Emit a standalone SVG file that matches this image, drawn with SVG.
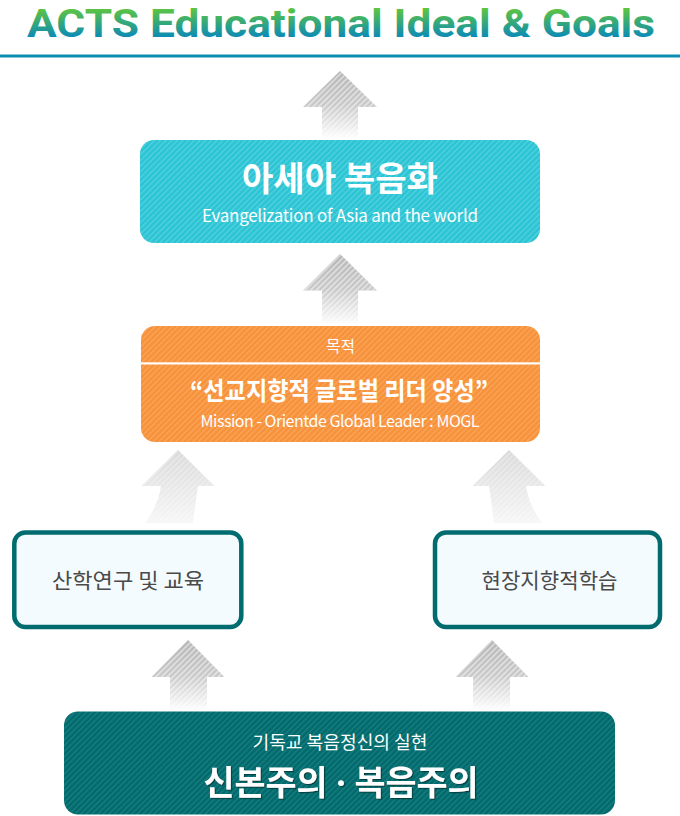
<svg xmlns="http://www.w3.org/2000/svg" width="680" height="816" viewBox="0 0 680 816">
  <defs>
    <style>
      .ko { font-family: "Noto Sans CJK KR", "Noto Sans", sans-serif; }
      .ttl { font-family: Roboto, "Liberation Sans", sans-serif; }
      .dot { font-family: "Noto Sans", "Liberation Sans", sans-serif; }
      .w { fill: #ffffff; }
      .dark { fill: #4a4a4a; }
    </style>
    <linearGradient id="titleGrad" x1="0" y1="7" x2="0" y2="37" gradientUnits="userSpaceOnUse">
      <stop offset="0" stop-color="#62c83a"/>
      <stop offset="1" stop-color="#0b8bb6"/>
    </linearGradient>
    <linearGradient id="arrowDark" x1="0" y1="0" x2="0" y2="1">
      <stop offset="0" stop-color="#b4b4b4"/>
      <stop offset="0.5" stop-color="#c8c8c8"/>
      <stop offset="1" stop-color="#ffffff"/>
    </linearGradient>
    <linearGradient id="arrowLight" x1="0" y1="0" x2="0" y2="1">
      <stop offset="0" stop-color="#d9d9d9"/>
      <stop offset="1" stop-color="#f6f6f6"/>
    </linearGradient>
    <pattern id="hatchWhite" width="4" height="4" patternUnits="userSpaceOnUse" patternTransform="rotate(45)">
      <rect x="0" y="0" width="1.6" height="4" fill="#ffffff" opacity="0.55"/>
    </pattern>
    <pattern id="hatchCyan" width="4" height="4" patternUnits="userSpaceOnUse" patternTransform="rotate(45)">
      <rect width="4" height="4" fill="#2bc4d4"/>
      <rect x="0" y="0" width="1.3" height="4" fill="#54d1de"/>
    </pattern>
    <pattern id="hatchOrange" width="4" height="4" patternUnits="userSpaceOnUse" patternTransform="rotate(45)">
      <rect width="4" height="4" fill="#f7913a"/>
      <rect x="0" y="0" width="1.3" height="4" fill="#faa65c"/>
    </pattern>
    <pattern id="hatchTeal" width="4" height="4" patternUnits="userSpaceOnUse" patternTransform="rotate(45)">
      <rect width="4" height="4" fill="#006a6c"/>
      <rect x="0" y="0" width="1.3" height="4" fill="#1c7e80"/>
    </pattern>
    <filter id="shadow" x="-5%" y="-20%" width="110%" height="140%">
      <feDropShadow dx="1.2" dy="1.2" stdDeviation="0.6" flood-color="#003a3b" flood-opacity="0.9"/>
    </filter>
  </defs>

  <rect width="680" height="816" fill="#ffffff"/>

  <!-- Title -->
  <g id="title">
    <text x="341" y="36.5" text-anchor="middle" class="ttl" font-size="39" font-weight="700" fill="url(#titleGrad)" textLength="628" lengthAdjust="spacingAndGlyphs">ACTS Educational Ideal &amp; Goals</text>
    <rect x="0" y="54.5" width="680" height="3" fill="#0e8db3"/>
  </g>

  <!-- Connectors -->
  <g id="connectors">
    <g id="arrow-top">
      <path d="M340,71 L377,107 L358,107 L358,139 L322,139 L322,107 L303,107 Z" fill="url(#arrowDark)"/>
      <path d="M340,71 L377,107 L358,107 L358,139 L322,139 L322,107 L303,107 Z" fill="url(#hatchWhite)"/>
    </g>
    <g id="arrow-mid">
      <path d="M340,254 L377,290.5 L358,290.5 L358,325 L322,325 L322,290.5 L303,290.5 Z" fill="url(#arrowDark)"/>
      <path d="M340,254 L377,290.5 L358,290.5 L358,325 L322,325 L322,290.5 L303,290.5 Z" fill="url(#hatchWhite)"/>
    </g>
    <g id="arrow-curve-left">
      <path d="M178,450 L214.5,486 L198,486 Q195,505 193,523 L145,523 Q158,506 161,486 L141.5,486 Z" fill="url(#arrowLight)"/>
      <path d="M178,450 L214.5,486 L198,486 Q195,505 193,523 L145,523 Q158,506 161,486 L141.5,486 Z" fill="url(#hatchWhite)" opacity="0.6"/>
    </g>
    <g id="arrow-curve-right">
      <path d="M509,450 L545.5,486 L526,486 Q529,506 542,523 L494,523 Q492,505 489,486 L472.5,486 Z" fill="url(#arrowLight)"/>
      <path d="M509,450 L545.5,486 L526,486 Q529,506 542,523 L494,523 Q492,505 489,486 L472.5,486 Z" fill="url(#hatchWhite)" opacity="0.6"/>
    </g>
    <g id="arrow-low-left">
      <path d="M188,640 L224.5,677 L207,677 L207,711 L170,711 L170,677 L151.5,677 Z" fill="url(#arrowDark)"/>
      <path d="M188,640 L224.5,677 L207,677 L207,711 L170,711 L170,677 L151.5,677 Z" fill="url(#hatchWhite)"/>
    </g>
    <g id="arrow-low-right">
      <path d="M492,640 L528.5,677 L510,677 L510,711 L473,711 L473,677 L455.5,677 Z" fill="url(#arrowDark)"/>
      <path d="M492,640 L528.5,677 L510,677 L510,711 L473,711 L473,677 L455.5,677 Z" fill="url(#hatchWhite)"/>
    </g>
  </g>

  <!-- Node: Evangelization of Asia -->
  <g id="node-asia">
    <rect x="140" y="140" width="400" height="103" rx="14" fill="url(#hatchCyan)"/>
    <text x="340" y="191" text-anchor="middle" class="ko w" font-size="34" font-weight="700" textLength="196" lengthAdjust="spacingAndGlyphs">아세아 복음화</text>
    <text x="340" y="222" text-anchor="middle" class="ko w" font-size="17" textLength="276">Evangelization of Asia and the world</text>
  </g>

  <!-- Node: Purpose MOGL -->
  <g id="node-mogl">
    <rect x="141" y="326" width="399" height="116" rx="14" fill="url(#hatchOrange)"/>
    <rect x="141" y="362.3" width="399" height="2.2" fill="#ffffff"/>
    <text x="340.5" y="352" text-anchor="middle" class="ko w" font-size="16" textLength="29" lengthAdjust="spacingAndGlyphs">목적</text>
    <text x="339" y="400" text-anchor="middle" class="ko w" font-size="25" font-weight="700" textLength="298" lengthAdjust="spacingAndGlyphs">“선교지향적 글로벌 리더 양성”</text>
    <text x="340" y="427" text-anchor="middle" class="ko w" font-size="16" textLength="279">Mission - Orientde Global Leader : MOGL</text>
  </g>

  <!-- Node: Theology research and education -->
  <g id="node-research">
    <rect x="14.3" y="532.5" width="227" height="94.5" rx="11" fill="#f4fbfe" stroke="#006c6f" stroke-width="4.5"/>
    <text x="128" y="588" text-anchor="middle" class="ko dark" font-size="21" textLength="152" lengthAdjust="spacingAndGlyphs">산학연구 및 교육</text>
  </g>

  <!-- Node: Field-oriented learning -->
  <g id="node-field">
    <rect x="435" y="532.5" width="225" height="94.5" rx="11" fill="#f4fbfe" stroke="#006c6f" stroke-width="4.5"/>
    <text x="549.5" y="588" text-anchor="middle" class="ko dark" font-size="21" textLength="136" lengthAdjust="spacingAndGlyphs">현장지향적학습</text>
  </g>

  <!-- Node: Theocentrism / Evangelicalism -->
  <g id="node-foundation">
    <rect x="64" y="711.5" width="551" height="103" rx="14" fill="url(#hatchTeal)"/>
    <text x="340" y="749" text-anchor="middle" class="ko w" font-size="18" textLength="175" lengthAdjust="spacingAndGlyphs">기독교 복음정신의 실현</text>
    <text x="341" y="795" text-anchor="middle" class="ko w" font-size="34" font-weight="700" textLength="275" lengthAdjust="spacingAndGlyphs" filter="url(#shadow)">신본주의<tspan class="dot"> · </tspan>복음주의</text>
  </g>
</svg>
